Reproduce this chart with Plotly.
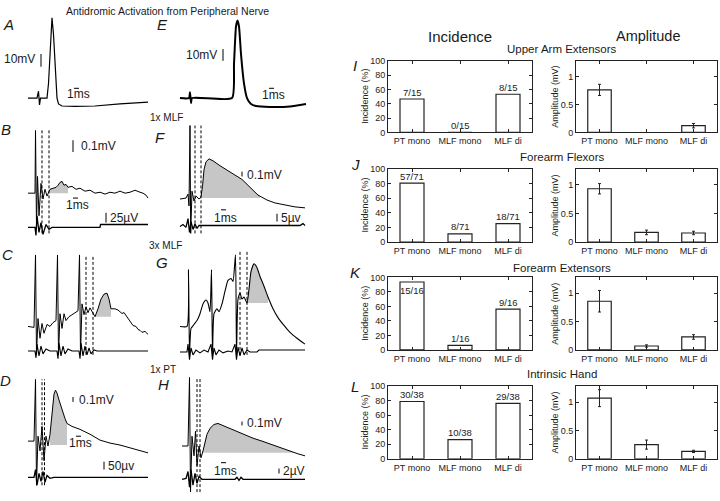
import numpy as np
import plotly.graph_objects as go

W, H = 720, 501
FONT = "Arial, Liberation Sans, Helvetica, sans-serif"
INK = "#1a1a1a"

# ---------------- bar chart data ----------------
categories = ["PT mono", "MLF mono", "MLF di"]
muscle_groups = ["Upper Arm Extensors", "Forearm Flexors", "Forearm Extensors", "Intrinsic Hand"]
group_letters = ["I", "J", "K", "L"]
incidence_counts = [[7, 0, 8], [57, 8, 18], [15, 1, 9], [30, 10, 29]]
incidence_totals = [15, 71, 16, 38]
amplitude_mean = [[0.76, None, 0.12], [0.93, 0.17, 0.16], [0.86, 0.07, 0.23], [1.07, 0.25, 0.13]]
amplitude_err = [[0.10, 0, 0.04], [0.09, 0.04, 0.03], [0.19, 0.02, 0.04], [0.15, 0.08, 0.02]]
incidence_ticks = [0, 20, 40, 60, 80, 100]
amplitude_ticks = [0, 0.5, 1]
amplitude_ticktext = ["0", "0.5", "1"]

# ---------------- intracellular / field traces (time in ms) ----------------
# A: antidromic spike (mV)
A_t = [0, 1.8, 2.1, 2.3, 2.5, 3.8, 4.1, 4.4, 4.8, 5.1, 5.4, 5.8, 6.1, 6.8, 9.4, 13.4, 18.4, 24]
A_v = [0, 0, 5.4, -5.4, 0, 0, 11.5, 38.5, 63, 50, 23, 0, -4.6, -6.2, -6.5, -6.2, -4.6, -3.1]
# E: antidromic spike (mV)
E_t = [0, 1.8, 2.0, 2.2, 2.4, 10.4, 10.8, 11.2, 11.5, 11.8, 12.2, 12.8, 13.4, 14.2, 15.2, 18, 22, 25.2]
E_v = [0, 0, 5, -4.2, 0, 0, 29, 61, 66, 61, 37.5, 12.5, 0, -5, -6.7, -7.5, -7.1, -5]

# B: 1x MLF, intracellular (uV) and field (uV)
B_up_t = [0, 1.4, 1.5, 1.7, 1.9, 2.2, 2.6, 3.0, 3.4, 3.8, 4.4, 5.0, 5.6, 6.0, 6.4, 6.8, 7.2, 7.6, 8.0, 8.8,
          9.6, 10.4, 11.4, 12.4, 13.4, 14.4, 15.4, 16.4, 17.4, 18.4, 19.4, 20.4, 21.4, 22.4, 23.0, 23.6, 24.0]
B_up_v = [0, 0, 533, -300, 142, -192, 83, -50, 33, -25, 33, 42, 50, 67, 92, 100, 67, 75, 50, 58,
          33, 42, 17, 25, 0, 8, -8, 8, 0, 17, 0, 8, 25, 8, 0, -17, -42]
B_lo_t = [0, 1.4, 1.6, 1.8, 2.2, 2.6, 3.0, 3.6, 4.2, 4.8, 14.4, 14.5, 24]
B_lo_v = [0, 0, -20, 30, -12.5, 12.5, -17.5, 7.5, -5, 0, 0, 7.5, 7.5]

# F: 1x MLF
F_up_t = [0, 1.2, 1.6, 1.8, 2.0, 2.14, 2.4, 2.8, 3.2, 3.8, 4.2, 4.5, 4.8, 5.2, 5.8, 6.6, 8.0, 10.6, 12.4,
          14, 15.6, 17.4, 19, 21, 23, 25]
F_up_v = [-20, 0, 80, -160, 1480, -720, 140, -60, 40, -20, 20, 240, 580, 740, 800, 760, 660, 500, 380,
          220, 60, -40, -100, -140, -180, -200]
F_lo_t = [0, 0.6, 1.2, 1.6, 1.9, 2.2, 2.6, 3.0, 3.4, 3.8, 12, 24, 24.6, 25]
F_lo_v = [-0.6, 0.6, -1.2, 4.4, -4.4, 2.5, -2.5, 1.2, -1.9, 0, 0, 0, 1.2, 0]

# C: 3x MLF
C_up_t = [0, 1.2, 1.5, 1.7, 2.0, 2.4, 2.8, 3.2, 3.8, 4.4, 5.0, 5.6, 5.9, 6.1, 6.4, 6.8, 7.2, 7.6, 8.2, 8.8,
          9.4, 10.0, 10.3, 10.5, 10.8, 11.2, 11.6, 12.0, 12.4, 12.8, 13.4, 14.0, 14.6, 15.2, 15.8, 16.2,
          16.6, 17.4, 18.0, 18.4, 18.8, 19.2, 19.8, 20.4, 21.0, 21.6, 22.0, 22.4, 22.8, 23.4, 24.0]
C_up_v = [0, -8, 608, -242, 67, -100, 25, -58, 17, 0, 33, 50, 608, -242, 108, -17, 108, 50, 83, 100,
          117, 133, 608, -242, 192, 100, 167, 117, 158, 125, 83, 150, 233, 275, 283, 233,
          150, 150, 140, 125, 110, 118, 83, 45, 8, 0, -25, -33, -50, -42, -67]
C_lo_t = [0, 1.4, 1.6, 1.8, 2.2, 2.6, 3.0, 3.6, 4.4, 5.8, 6.0, 6.2, 6.6, 7.0, 7.4, 8.0, 8.8, 10.2, 10.4,
          10.6, 11.0, 11.4, 11.8, 12.2, 12.6, 13.2, 13.8, 24]
C_lo_v = [0, 0, -17.5, 17.5, -12.5, 12.5, -7.5, 5, 0, 0, -20, 20, -12.5, 12.5, -7.5, 5, 0, 0, -20,
          20, -12.5, 12.5, -10, 7.5, -7.5, 2.5, 0, 0]

# G: 3x MLF
G_up_t = [0, 1.4, 1.7, 1.9, 2.2, 2.8, 3.4, 4.0, 4.6, 5.2, 5.6, 6.0, 6.3, 6.5, 6.8, 7.4, 7.8, 8.4, 9.0, 9.6,
          10.2, 10.6, 11.1, 11.3, 11.6, 12.0, 12.4, 12.8, 13.4, 13.8, 14.2, 14.8, 15.4, 16.0, 16.8, 17.6,
          18.6, 19.6, 20.8, 22.0, 23.4, 25.0]
G_up_v = [0, 0, 1160, -580, -40, 40, 120, 260, 460, 540, 480, 300, 1160, -580, 260, 360, 300, 460, 720, 940,
          980, 920, 1460, -580, 560, 680, 560, 600, 480, 760, 1120, 1280, 1200, 1020, 820, 600,
          360, 180, 20, -120, -240, -360]
G_lo_t = [0, 1.4, 1.6, 1.9, 2.2, 2.6, 3.2, 4.0, 4.8, 5.6, 6.2, 6.5, 6.8, 7.2, 7.8, 8.6, 9.6, 10.4, 11.0,
          11.3, 11.6, 12.0, 12.4, 12.8, 13.4, 14.0, 15.4, 15.8, 25]
G_lo_v = [0, 0, 5, -5, 2.5, -1.9, 1.2, -0.6, 1.2, 0, 5, -5, 2.5, -1.9, 1.2, -0.6, 0.6, 0, 5,
          -5, 3.1, -2.5, 2.5, -1.9, 1.2, 0, 0, 1.2, 1.2]

# D: 1x PT
D_up_t = [0, 1.2, 1.5, 1.7, 2.0, 2.4, 2.8, 3.2, 3.6, 4.0, 4.4, 4.8, 5.2, 5.5, 5.8, 6.2, 6.8, 7.4, 7.8, 8.8,
          10.4, 12.4, 14.4, 16.4, 18.4, 20.4, 22.4, 24]
D_up_v = [0, 0, 1260, -900, 100, -200, 300, -400, 100, -100, 140, 600, 960, 1040, 980, 840, 640, 460, 360, 300,
          240, 140, 20, -40, -80, -140, -200, -240]
D_lo_t = [0, 1.2, 1.5, 1.8, 2.2, 2.6, 3.0, 3.4, 3.8, 4.4, 5.2, 24]
D_lo_v = [0, 0, 50, -50, 25, -25, 37.5, -31, 12.5, -6, 0, 0]

# H: 1x PT
H_up_t = [0, 1.2, 1.5, 1.7, 2.0, 2.4, 2.7, 3.0, 3.4, 3.8, 4.2, 4.6, 5.0, 5.6, 6.4, 7.2, 8.6, 10.2, 12.2,
          14.2, 16, 17.6, 19.6, 21.6, 23.2, 24.6]
H_up_v = [175, 175, 1925, -1000, 425, -75, 550, -325, 175, -125, 50, 300, 475, 625, 725, 750, 675, 575, 475,
          375, 300, 225, 125, 50, -25, -75]
H_lo_t = [0, 0.8, 1.2, 1.5, 1.8, 2.2, 2.6, 3.0, 3.4, 4.0, 10.6, 11, 11.4, 11.8, 12.2, 24.6]
H_lo_v = [-0.4, 0, 2.8, -3.6, 3.6, -2.8, 2, -2, 0.8, -0.4, -0.4, 0.4, -0.8, 0.4, -0.4, -0.4]

# shaded measurement windows (ms) and their baselines
B_shade = ([4.4, 8.0], 0)
F_shade = ([4.4, 16.0], 0)
C_shade = ([13.4, 16.6], 83)
G_shade = ([13.4, 17.6], 480)
D_shade = ([4.4, 7.8], -80)
H_shade = ([4.2, 22.2], 0)

# ---------------- figure machinery ----------------
layout = dict(width=W, height=H, margin=dict(l=0, r=0, t=0, b=0), paper_bgcolor="white",
              plot_bgcolor="white", showlegend=False, font=dict(family=FONT, color=INK))
shapes, annotations, traces = [], [], []
ids = {"x": 0, "y": 0}


def new_id(kind):
    ids[kind] += 1
    n = ids[kind]
    return kind if n == 1 else f"{kind}{n}"


def axkey(ref):
    return ref[0] + "axis" + ref[1:]


def xdom(l, r):
    return [l / W, r / W]


def ydom(t, b):
    return [1 - b / H, 1 - t / H]


hidden = dict(visible=False, fixedrange=True)


def trace_panel(box, x0, base, k, ms_px=5.0):
    l, r, t, b = box
    xa, ya = new_id("x"), new_id("y")
    layout[axkey(xa)] = dict(domain=xdom(l, r), range=[(l - x0) / ms_px, (r - x0) / ms_px], anchor=ya, **hidden)
    layout[axkey(ya)] = dict(domain=ydom(t, b), range=[(base - b) * k, (base - t) * k], anchor=xa, **hidden)
    return dict(x=xa, y=ya, box=box, x0=x0, base=base, k=k, ms_px=ms_px)


def overlay(p, base, k):
    l, r, t, b = p["box"]
    ya = new_id("y")
    layout[axkey(ya)] = dict(range=[(base - b) * k, (base - t) * k], overlaying=p["y"], anchor=p["x"], **hidden)
    q = dict(p)
    q.update(y=ya, base=base, k=k)
    return q


def to_data(p, xpx, ypx):
    return (xpx - p["x0"]) / p["ms_px"], (p["base"] - ypx) * p["k"]


def add_line(p, t, v, width=1.0, smooth=False):
    line = dict(color="black", width=width)
    if smooth:
        line.update(shape="spline", smoothing=0.5)
    traces.append(go.Scatter(x=t, y=v, xaxis=p["x"], yaxis=p["y"], mode="lines", line=line, hoverinfo="skip"))


def add_shade(p, t, v, shade):
    (t0, t1), base = shade
    t = np.asarray(t, float)
    v = np.asarray(v, float)
    m = (t > t0) & (t < t1)
    xs = [t0, t0] + list(t[m]) + [t1, t1]
    ys = [base, float(np.interp(t0, t, v))] + list(v[m]) + [float(np.interp(t1, t, v)), base]
    traces.append(go.Scatter(x=xs, y=ys, xaxis=p["x"], yaxis=p["y"], mode="lines", fill="toself",
                             fillcolor="#c6c6c6", line=dict(width=0, color="rgba(0,0,0,0)"), hoverinfo="skip"))


def dashed(p, xpx_list, top, bottom):
    for xpx in xpx_list:
        t, _ = to_data(p, xpx, 0)
        shapes.append(dict(type="line", xref=p["x"], yref="paper", x0=t, x1=t, y0=1 - bottom / H, y1=1 - top / H,
                           line=dict(color="black", width=1, dash="3px,2px")))


def vbar(p, xpx, ypx, length):
    t, v = to_data(p, xpx, ypx)
    shapes.append(dict(type="line", xref=p["x"], yref=p["y"], x0=t, x1=t, y0=v, y1=v + length,
                       line=dict(color="black", width=1)))


def hbar(p, xpx, ypx, length=1.0):
    t, v = to_data(p, xpx, ypx)
    shapes.append(dict(type="line", xref=p["x"], yref=p["y"], x0=t, x1=t + length, y0=v, y1=v,
                       line=dict(color="black", width=1)))


def text(xpx, ypx, s, size=12, anchor="center", italic=False, angle=0, color=INK):
    annotations.append(dict(x=xpx / W, y=1 - ypx / H, xref="paper", yref="paper",
                            text=f"<i>{s}</i>" if italic else s, showarrow=False, xanchor=anchor,
                            yanchor="middle", textangle=angle, font=dict(size=size, family=FONT, color=color)))


# ---------------- left: traces ----------------
pA = trace_panel((20, 155, 8, 110), 28, 95, 10 / 13)
add_line(pA, A_t, A_v, 1.2)
vbar(pA, 41, 63, 10); text(37, 55, "10mV", 12, "right")
hbar(pA, 74, 85); text(78, 91, "1ms", 12)

pE = trace_panel((172, 312, 8, 110), 180, 95, 10 / 12)
add_line(pE, E_t, E_v, 2.0, smooth=True)
vbar(pE, 223, 57, 10); text(219, 51, "10mV", 12, "right")
hbar(pE, 269, 85); text(273, 92, "1ms", 12)

pB = trace_panel((20, 155, 120, 240), 28, 192, 100 / 12)
pBl = overlay(pB, 227, 2.5)
add_shade(pB, B_up_t, B_up_v, B_shade)
add_line(pB, B_up_t, B_up_v, 1.0)
add_line(pBl, B_lo_t, B_lo_v, 1.3)
dashed(pB, [42, 49], 127, 233)
vbar(pB, 73, 150, 100); text(79, 144, "0.1mV", 12, "left")
hbar(pB, 73, 197); text(77, 204, "1ms", 12)
vbar(pBl, 106, 222, 25); text(108, 217, "25µV", 12, "left")

pF = trace_panel((172, 312, 120, 240), 180, 197, 20)
pFl = overlay(pF, 225, 0.625)
add_shade(pF, F_up_t, F_up_v, F_shade)
add_line(pF, F_up_t, F_up_v, 1.0)
add_line(pFl, F_lo_t, F_lo_v, 1.3)
dashed(pF, [195, 201], 123, 233)
vbar(pF, 242, 175, 100); text(245, 173, "0.1mV", 12, "left")
hbar(pF, 221, 209); text(225, 217, "1ms", 12)
vbar(pFl, 277, 221, 5); text(279, 217, "5µv", 12, "left")

pC = trace_panel((20, 155, 250, 365), 28, 328, 100 / 12)
pCl = overlay(pC, 353, 2.5)
add_shade(pC, C_up_t, C_up_v, C_shade)
add_line(pC, C_up_t, C_up_v, 1.0)
add_line(pCl, C_lo_t, C_lo_v, 1.1)
dashed(pC, [86, 93], 257, 357)

pG = trace_panel((172, 312, 245, 365), 180, 328, 20)
pGl = overlay(pG, 354, 0.625)
add_shade(pG, G_up_t, G_up_v, G_shade)
add_line(pG, G_up_t, G_up_v, 1.1, smooth=True)
add_line(pGl, G_lo_t, G_lo_v, 1.1)
dashed(pG, [240, 247], 250, 357)

pD = trace_panel((20, 155, 375, 500), 28, 445, 20)
pDl = overlay(pD, 482, 6.25)
add_shade(pD, D_up_t, D_up_v, D_shade)
add_line(pD, D_up_t, D_up_v, 1.0)
add_line(pDl, D_lo_t, D_lo_v, 1.3)
dashed(pD, [42, 44.5], 382, 490)
vbar(pD, 73, 405, 100); text(77, 403, "0.1mV", 12, "left")
hbar(pD, 76, 440); text(80, 447, "1ms", 12)
vbar(pDl, 104, 474, 50); text(106, 470, "50µv", 12, "left")

pH = trace_panel((172, 312, 375, 500), 182, 457, 25)
pHl = overlay(pH, 483, 0.4)
add_shade(pH, H_up_t, H_up_v, H_shade)
add_line(pH, H_up_t, H_up_v, 1.0)
add_line(pHl, H_lo_t, H_lo_v, 1.3)
dashed(pH, [197, 200], 380, 497)
vbar(pH, 242, 429, 100); text(245, 427, "0.1mV", 12, "left")
hbar(pH, 221, 467); text(225, 475, "1ms", 12)
vbar(pHl, 279, 478, 2); text(281, 475, "2µV", 12, "left")

text(167, 6, "Antidromic Activation from Peripheral Nerve", 10.5)
text(166, 115, "1x MLF", 10)
text(165, 245, "3x MLF", 10)
text(163, 372, "1x PT", 10)
for letter, (lx, ly) in zip("AEBFCGDH", [(8, 20), (162, 20), (6, 127), (160, 135), (7, 255), (162, 263),
                                         (5, 383), (163, 387)]):
    text(lx, ly, letter, 15, italic=True)

# ---------------- right: bar charts ----------------
row_boxes = [(57, 130), (167, 242), (278, 352), (389, 463)]
row_title_y = [45, 155, 268, 377]
inc_x = (388, 532)
amp_x = (576, 717)
axis_style = dict(showline=True, linecolor="#222", linewidth=1, mirror="ticks", ticks="inside", ticklen=3,
                  tickcolor="#222", tickfont=dict(size=9, color="#222", family=FONT), showgrid=False,
                  zeroline=False, fixedrange=True)


def bar_axes(xs, top, bottom, yrange, tickvals, ticktext):
    xa, ya = new_id("x"), new_id("y")
    layout[axkey(xa)] = dict(domain=xdom(*xs), anchor=ya, type="category", range=[-0.5, 2.5],
                             categoryorder="array", categoryarray=categories, **axis_style)
    layout[axkey(ya)] = dict(domain=ydom(top, bottom), anchor=xa, range=yrange, tickvals=tickvals,
                             ticktext=ticktext, **axis_style)
    return xa, ya


for gi, group in enumerate(muscle_groups):
    top, bottom = row_boxes[gi]
    pct = [100.0 * c / incidence_totals[gi] for c in incidence_counts[gi]]
    xa, ya = bar_axes(inc_x, top, bottom, [0, 100], incidence_ticks, [str(v) for v in incidence_ticks])
    traces.append(go.Bar(x=categories, y=pct, xaxis=xa, yaxis=ya, width=0.5,
                         marker=dict(color="white", line=dict(color="#222", width=1.2)), hoverinfo="skip"))
    for cat, c, p in zip(categories, incidence_counts[gi], pct):
        annotations.append(dict(x=cat, y=p, xref=xa, yref=ya, text=f"{c}/{incidence_totals[gi]}",
                                showarrow=False, yanchor="middle", yshift=-9 if p > 85 else 7,
                                font=dict(size=9.5, color="#222", family=FONT)))
    xa2, ya2 = bar_axes(amp_x, top, bottom, [0, 1.28], amplitude_ticks, amplitude_ticktext)
    traces.append(go.Bar(x=categories, y=amplitude_mean[gi], xaxis=xa2, yaxis=ya2, width=0.5,
                         marker=dict(color="white", line=dict(color="#222", width=1.2)),
                         error_y=dict(type="data", array=amplitude_err[gi], color="#222", thickness=1, width=1.5),
                         hoverinfo="skip"))
    text(562, row_title_y[gi], group, 11.5)
    mid = (top + bottom) / 2
    text(365, mid, "Incidence (%)", 9, angle=-90, color="#222")
    text(555, mid, "Amplitude (mV)", 9, angle=-90, color="#222")

text(460, 32, "Incidence", 15)
text(648, 32, "Amplitude", 14.5)
for letter, ly in zip(group_letters, [62, 163, 273, 389]):
    text(355, ly, letter, 15, italic=True)

layout["shapes"] = shapes
layout["annotations"] = annotations
fig = go.Figure(data=traces, layout=layout)
fig.write_html("out.html", config={"displayModeBar": False},
               post_script="document.body.style.margin='0';document.body.style.overflow='hidden';")
